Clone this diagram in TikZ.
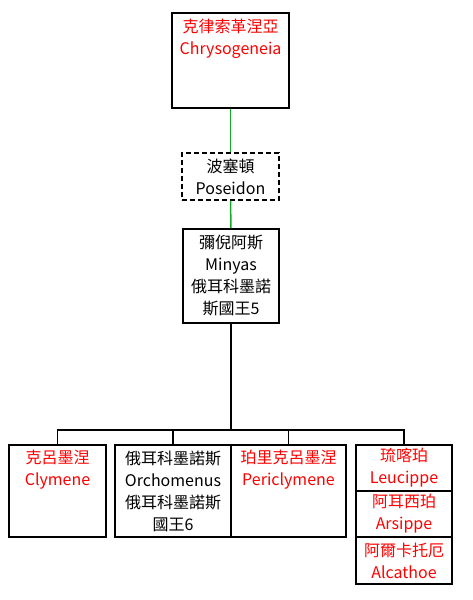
\documentclass[tikz,border=0pt]{standalone}
\usepackage{fontspec}
\setmainfont{Noto Sans CJK TC}
\definecolor{linkgreen}{RGB}{20,170,40}
\begin{document}
\begin{tikzpicture}[x=1pt,y=-1pt,
  box/.style={draw=black,line width=1.7pt,fill=white,rectangle,inner sep=0pt},
  dbox/.style={box,dash pattern=on 5pt off 3pt},
  txt/.style={align=center,inner sep=0pt,font=\fontsize{16}{22}\selectfont},
  green line/.style={draw=linkgreen,line width=1.5pt},
  black line/.style={draw=black,line width=1.8pt}]
\useasboundingbox (0,0) rectangle (472,600);
% top
\node[box,minimum width=117,minimum height=95] (top) at (230.5,60.5) {};
\node[txt,text=red,anchor=north] (toptxt) at (230.5,19) {克律索革涅亞\\Chrysogeneia};
% poseidon
\node[dbox,minimum width=97,minimum height=47] (pos) at (230.5,176.5) {};
\node[txt] (postxt) at (pos.center) {波塞頓\\Poseidon};
% minyas
\node[box,minimum width=96,minimum height=94] (min) at (231,276) {};
\node[txt] (mintxt) at (min.center) {彌倪阿斯\\Minyas\\俄耳科墨諾\\斯國王5};
% children
\node[box,minimum width=97,minimum height=92] (c1) at (57.5,491) {};
\node[txt,text=red,anchor=north] (c1txt) at (57.5,450) {克呂墨涅\\Clymene};
\node[box,minimum width=116,minimum height=92] (c2) at (173,491) {};
\node[txt] (c2txt) at (c2.center) {俄耳科墨諾斯\\Orchomenus\\俄耳科墨諾斯\\國王6};
\node[box,minimum width=115,minimum height=92] (c3) at (288.5,491) {};
\node[txt,text=red,anchor=north] (c3txt) at (288.5,450) {珀里克呂墨涅\\Periclymene};
\node[box,minimum width=96,minimum height=46] (c4a) at (404,468) {};
\node[txt,text=red] (c4atxt) at (c4a.center) {琉喀珀\\Leucippe};
\node[box,minimum width=96,minimum height=46] (c4b) at (404,514) {};
\node[txt,text=red] (c4btxt) at (c4b.center) {阿耳西珀\\Arsippe};
\node[box,minimum width=96,minimum height=47] (c4c) at (404,560.5) {};
\node[txt,text=red] (c4ctxt) at (c4c.center) {阿爾卡托厄\\Alcathoe};
% connectors
\draw[green line] (top.south) -- (pos.north);
\draw[green line] (pos.south) -- (min.north);
\coordinate (bus) at (231,430);
\draw[black line] (min.south) -- (bus);
\draw[black line] (c1.north) |- (bus);
\draw[black line] (c2.north) |- (bus);
\draw[black line] (c3.north) |- (bus);
\draw[black line] (c4a.north) |- (bus);
\end{tikzpicture}
\end{document}
